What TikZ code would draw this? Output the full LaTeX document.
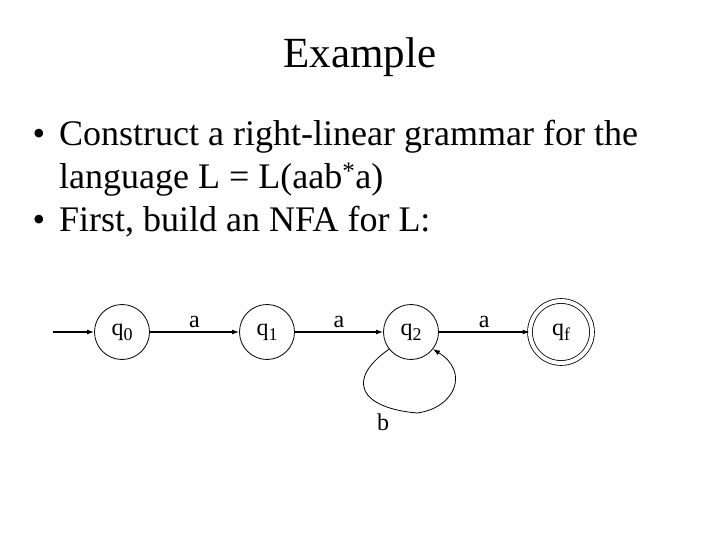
\documentclass[tikz,border=0pt]{standalone}
\usepackage{fontspec}
\setmainfont{Liberation Serif}
\usetikzlibrary{arrows.meta}

\newcommand{\stname}[1]{q\raisebox{-5pt}{\fontsize{18}{18}\selectfont #1}}

\tikzset{
  state/.style={draw, circle, line width=0.8pt, minimum size=55pt, inner sep=0pt, font=\fontsize{24}{28}\selectfont},
  final/.style={state, double, double distance=4pt, minimum size=62pt},
  edge/.style={line width=1.3pt, -{Latex[length=7pt,width=5pt]}},
  edgelabel/.style={font=\fontsize{24}{28}\selectfont, inner sep=0pt},
  bulletline/.style={anchor=base west, inner sep=0pt, font=\fontsize{36}{43}\selectfont}
}

\begin{document}
\begin{tikzpicture}[x=1pt, y=-1pt]
%% page frame, same size as the slide
    \useasboundingbox (0,0) rectangle (720,540);

%% title and the two bullets
    \node[anchor=base, inner sep=0pt, font=\fontsize{43}{50}\selectfont] (title) at (360,68) {Example};
    \node[bulletline, anchor=base] (dot1) at (39,146) {\textbullet};
    \node[bulletline] (line1) at (59,146) {Construct a right-linear grammar for the};
    \node[bulletline] (line2) at (59,189) {language L = L(aab\textsuperscript{*}a)};
    \node[bulletline, anchor=base] (dot2) at (39,232) {\textbullet};
    \node[bulletline] (line3) at (59,232) {First, build an NFA for L:};

%% the states of the NFA
    \node[state] (q0) at (122,332) {\stname{0}};
    \node[state] (q1) at (267,332) {\stname{1}};
    \node[state] (q2) at (411,332) {\stname{2}};
    \node[final] (qf) at (561,332) {\stname{f}};
    \coordinate (start) at (53,332);

%% transitions
    \draw[edge] (start) -- (q0);
    \draw[edge] (q0) -- node[edgelabel, anchor=south, yshift=4pt] {a} (q1);
    \draw[edge] (q1) -- node[edgelabel, anchor=south, yshift=4pt] {a} (q2);
    \draw[edge] (q2) -- node[edgelabel, anchor=south, yshift=4pt] {a} (qf);

%% the b loop under q2
    \draw[line width=0.8pt] (q2.-142) .. controls (345,380) and (360,408) .. (417,413) coordinate (loopbot);
    \draw[edge, line width=0.8pt] (loopbot) .. controls (455,408) and (470,372) .. (q2.-38);
    \node[edgelabel] (blabel) at (383,422) {b};
\end{tikzpicture}
\end{document}
